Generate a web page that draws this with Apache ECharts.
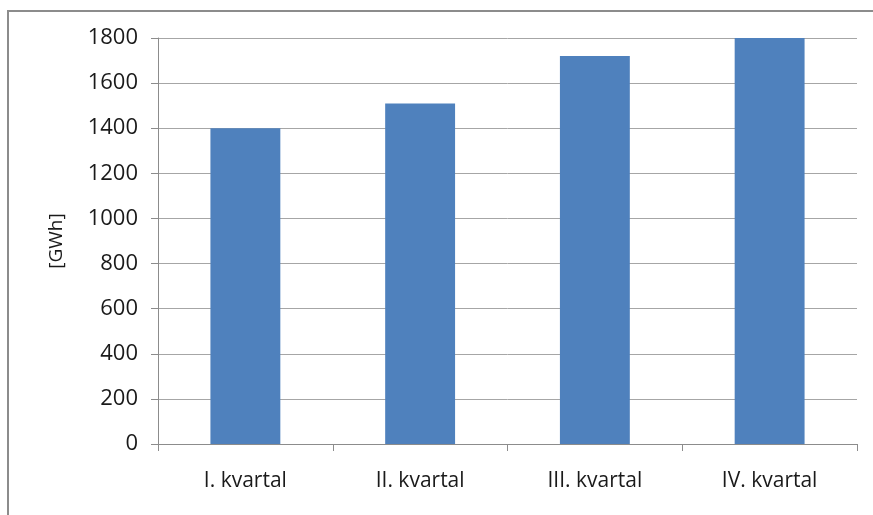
<!DOCTYPE html>
<html>
<head>
<meta charset="utf-8">
<script src="https://cdn.jsdelivr.net/npm/echarts@6/dist/echarts.min.js"></script>
<style>
html,body{margin:0;padding:0;background:#fff;}
#chart{width:873px;height:515px;}
</style>
</head>
<body>
<div id="chart"></div>
<script>
var categories = ['I. kvartal', 'II. kvartal', 'III. kvartal', 'IV. kvartal'];
var values = [1400, 1510, 1720, 1800];
var yTicks = [0, 200, 400, 600, 800, 1000, 1200, 1400, 1600, 1800];
var yAxisName = '[GWh]';

var chart = echarts.init(document.getElementById('chart'));
var font = '"Open Sans", "Liberation Sans", sans-serif';
chart.setOption({
  animation: false,
  backgroundColor: '#fff',
  graphic: [{
    type: 'rect',
    shape: { x: 8, y: 11, width: 900, height: 540 },
    style: { fill: 'none', stroke: '#8c8c8c', lineWidth: 2 },
    silent: true
  }],
  grid: { left: 158, right: 16, top: 38, bottom: 71 },
  xAxis: {
    type: 'category',
    data: categories,
    axisLine: { lineStyle: { color: '#8c8c8c', width: 1 } },
    axisTick: { show: true, length: 7, lineStyle: { color: '#8c8c8c' } },
    axisLabel: { color: '#1a1a1a', fontSize: 21, fontFamily: font, margin: 27 }
  },
  yAxis: {
    type: 'value',
    min: yTicks[0],
    max: yTicks[yTicks.length - 1],
    interval: 200,
    name: yAxisName,
    nameLocation: 'middle',
    nameGap: 92,
    nameRotate: 90,
    nameTextStyle: { color: '#1a1a1a', fontSize: 19, fontFamily: font },
    axisLine: { show: true, lineStyle: { color: '#8c8c8c', width: 1 } },
    axisTick: { show: true, length: 7, lineStyle: { color: '#8c8c8c' } },
    axisLabel: {
      color: '#1a1a1a', fontSize: 22, fontFamily: font, margin: 20,
      formatter: function (v) { return String(v); }
    },
    splitLine: { lineStyle: { color: '#a6a6a6', width: 1 } }
  },
  series: [{
    type: 'bar',
    data: values,
    barWidth: '40%',
    itemStyle: { color: '#4f81bd' }
  }]
});
</script>
</body>
</html>
